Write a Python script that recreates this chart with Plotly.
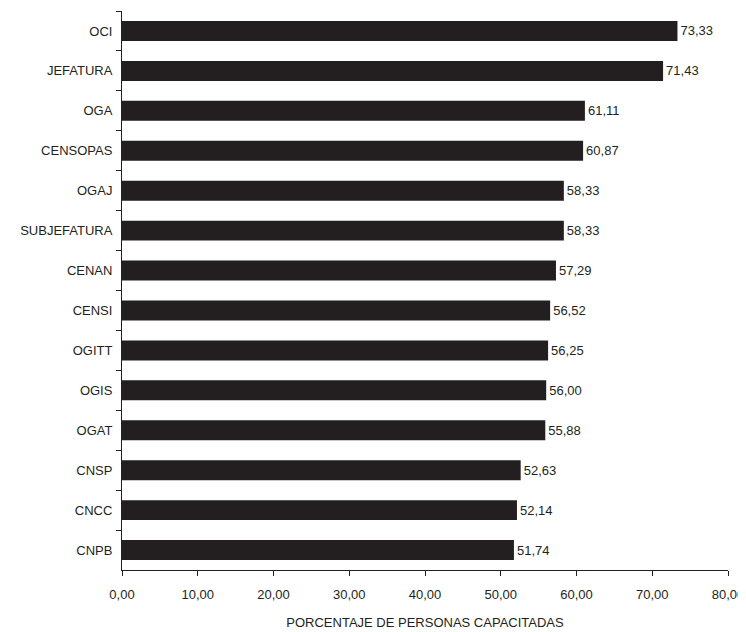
import plotly.graph_objects as go

categories = ["OCI", "JEFATURA", "OGA", "CENSOPAS", "OGAJ", "SUBJEFATURA", "CENAN",
              "CENSI", "OGITT", "OGIS", "OGAT", "CNSP", "CNCC", "CNPB"]
values = [73.33, 71.43, 61.11, 60.87, 58.33, 58.33, 57.29,
          56.52, 56.25, 56.00, 55.88, 52.63, 52.14, 51.74]
x_ticks = [0, 10, 20, 30, 40, 50, 60, 70, 80]

FONT = "Liberation Sans Narrow, Arial Narrow, Liberation Sans, Arial, sans-serif"
INK = "#231f20"

fig = go.Figure(go.Bar(
    x=values, y=categories, orientation="h",
    marker=dict(color=INK, line=dict(width=0)),
    texttemplate="%{x:.2f}", textposition="outside",
    textfont=dict(family=FONT, size=13, color=INK),
    cliponaxis=False,
))

# page body has an 8px margin, so the figure is sized to fit the window
fig.update_layout(
    width=738, height=624,
    margin=dict(l=114, r=18, t=3, b=62),
    paper_bgcolor="white", plot_bgcolor="white",
    separators=",.",
    bargap=0.5,
    showlegend=False,
    font=dict(family=FONT, size=13, color=INK),
)
fig.update_xaxes(
    range=[0, 80], tickvals=x_ticks, tickformat=".2f",
    automargin=False,
    showgrid=False, zeroline=False,
    showline=True, linecolor=INK, linewidth=1,
    ticks="outside", ticklen=5, tickcolor=INK,
    tickfont=dict(family=FONT, size=13, color=INK),
    ticklabelstandoff=7,
    title=dict(text="PORCENTAJE DE PERSONAS CAPACITADAS", standoff=17,
               font=dict(family=FONT, size=13, color=INK)),
)
fig.update_yaxes(
    autorange="reversed", type="category",
    automargin=False,
    showgrid=False, zeroline=False,
    showline=True, linecolor=INK, linewidth=1,
    ticks="outside", ticklen=5, tickcolor=INK, tickson="boundaries",
    tickfont=dict(family=FONT, size=13, color=INK),
    ticklabelstandoff=6,
)

fig.write_html("out.html")
